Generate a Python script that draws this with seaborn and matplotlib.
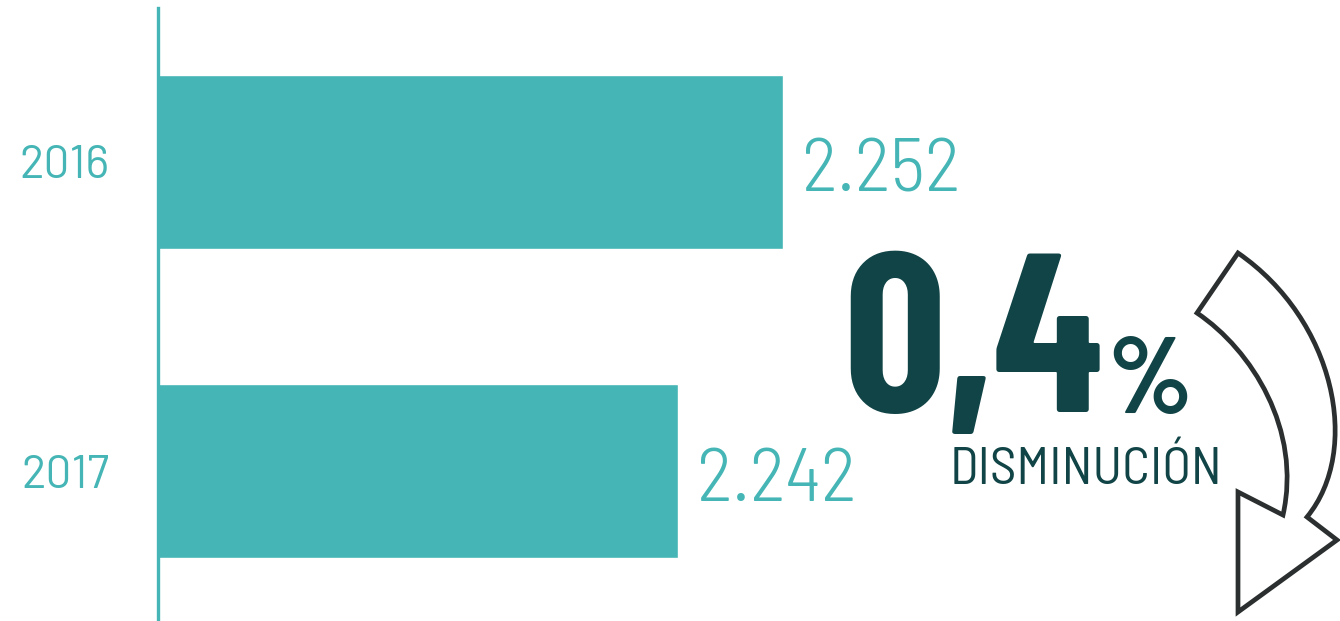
import seaborn as sns
import matplotlib.pyplot as plt
import pandas as pd
from matplotlib.path import Path
from matplotlib.patches import PathPatch

years = ['2016', '2017']
values = [2252, 2242]
labels = ['2.252', '2.242']
big_value = '0,4'
big_unit = '%'
big_caption = 'DISMINUCIÓN'

teal = '#45b5b5'
dark = '#114446'

sns.set_style('white')
plt.rcParams['font.family'] = ['Barlow Semi Condensed', 'DejaVu Sans']

df = pd.DataFrame({'Año': years, 'Valor': values})

fig = plt.figure(figsize=(13.4, 6.21), dpi=100)
ax = fig.add_axes([158 / 1340, 0, 1 - 158 / 1340, 613 / 621])
sns.barplot(data=df, x='Valor', y='Año', orient='h', color=teal,
            width=0.563, saturation=1, ax=ax)

ax.set_xlim(2192.48, 2305.05)
ax.set_ylim(1.485, -0.498)
for side in ['top', 'right', 'bottom']:
    ax.spines[side].set_visible(False)
ax.spines['left'].set_color(teal)
ax.spines['left'].set_linewidth(2.4)
ax.set_xticks([])
ax.set_xlabel('')
ax.set_ylabel('')
ax.tick_params(axis='y', length=0, pad=35)
for t in ax.get_yticklabels():
    t.set_fontfamily(['Barlow', 'Roboto', 'DejaVu Sans'])
    t.set_fontsize(33)
    t.set_color(teal)

# value labels, baseline placed a bit below bar centre like the original
texts = ax.bar_label(ax.containers[0], labels=labels, padding=14, fontsize=55,
                     color=teal, fontweight=300)
for t in texts:
    t.set_va('baseline')
    t.xyann = (14, -21.5)

# overlay in pixel coordinates for the annotation + arrow
ov = fig.add_axes([0, 0, 1, 1], zorder=5)
ov.set_xlim(0, 1340)
ov.set_ylim(621, 0)
ov.axis('off')
ov.patch.set_alpha(0)

ov.text(843, 412, big_value, fontsize=163, fontweight='bold', color=dark,
        family=['Barlow Condensed', 'DejaVu Sans'], ha='left', va='baseline')
ov.text(1108, 413, big_unit, fontsize=78, fontweight='bold', color=dark,
        family=['Barlow Condensed', 'DejaVu Sans'], ha='left', va='baseline')
ov.text(950, 484, big_caption, fontsize=38, color=dark,
        family=['Barlow Semi Condensed', 'DejaVu Sans'], ha='left', va='baseline')

verts = [
    (1238, 253), (1197, 313),
    (1252, 350), (1302, 430), (1283, 515),
    (1238, 492), (1238, 612), (1337, 540), (1307, 517),
    (1362, 450), (1335, 320), (1238, 253),
    (1238, 253),
]
codes = [
    Path.MOVETO, Path.LINETO,
    Path.CURVE4, Path.CURVE4, Path.CURVE4,
    Path.LINETO, Path.LINETO, Path.LINETO, Path.LINETO,
    Path.CURVE4, Path.CURVE4, Path.CURVE4,
    Path.CLOSEPOLY,
]
ov.add_patch(PathPatch(Path(verts, codes), facecolor='white',
                       edgecolor='#2b2f2f', linewidth=3.4, joinstyle='miter'))

fig.savefig('out.png', dpi=100)
